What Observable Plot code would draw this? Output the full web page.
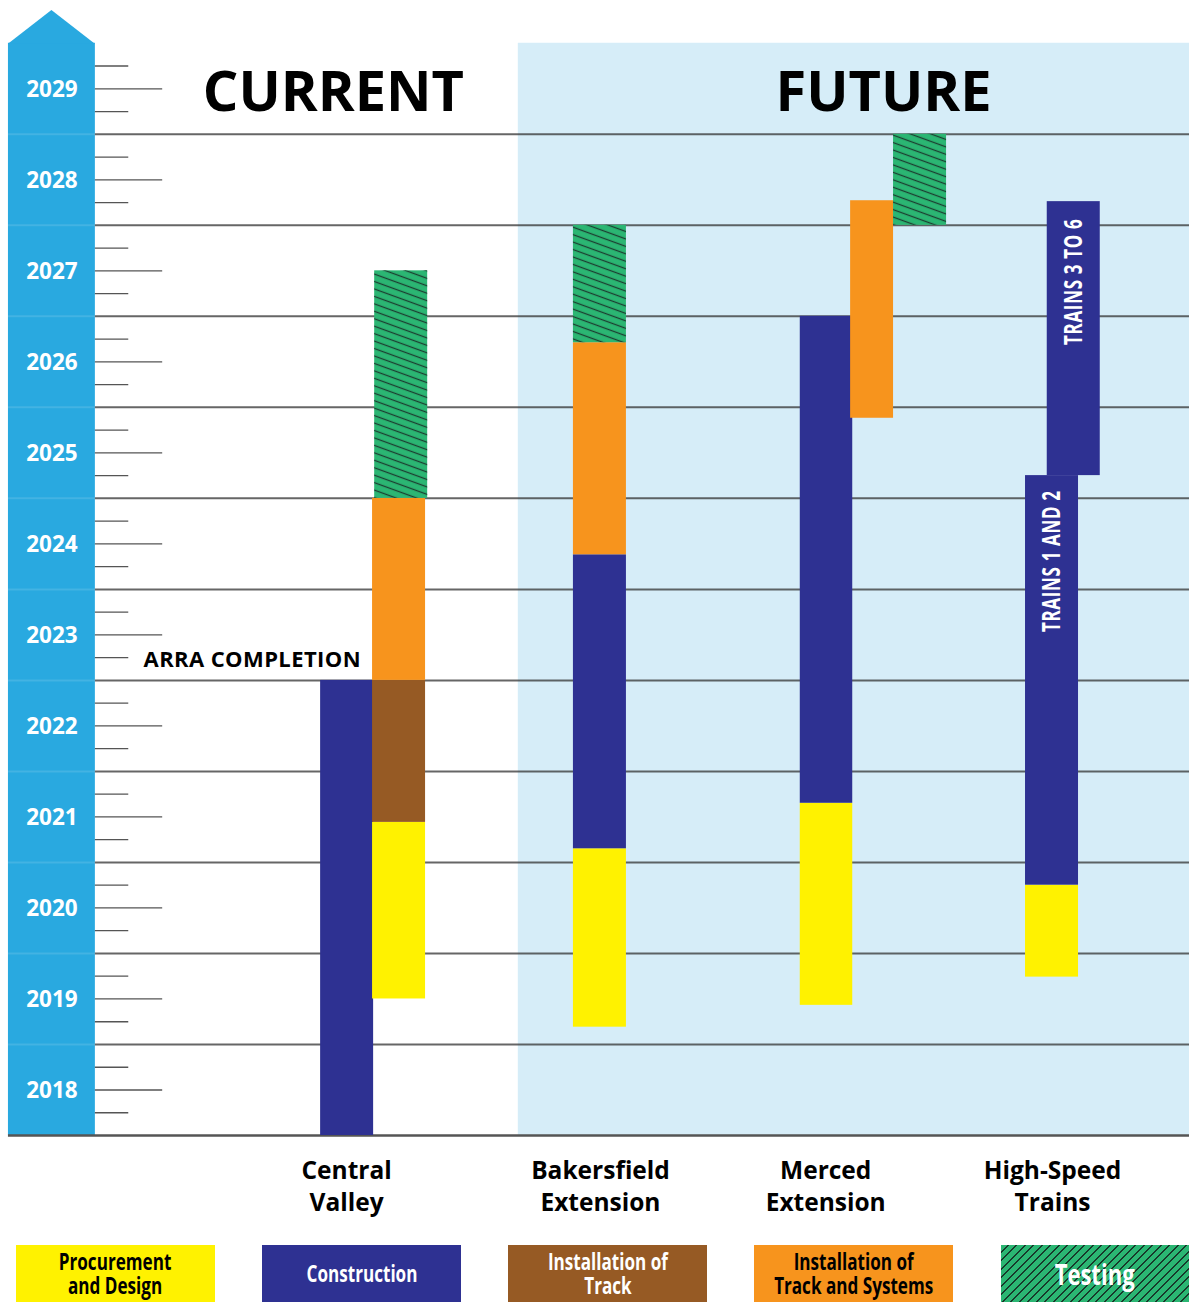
<!DOCTYPE html>
<html>
<head>
<meta charset="utf-8">
<script src="https://cdn.jsdelivr.net/npm/d3@7"></script>
<script src="https://cdn.jsdelivr.net/npm/@observablehq/plot@0.6"></script>
<style>
  html, body { margin: 0; padding: 0; background: #fff; }
  body { width: 1189px; font-family: "Open Sans", sans-serif; }
  #legend { position: relative; height: 57px; margin-top: 15px; }
  .lg { position: absolute; top: 0; height: 57px; display: flex; align-items: center; justify-content: center;
        text-align: center; font-family: "Open Sans", sans-serif; font-weight: bold; font-size: 22.5px; line-height: 24px; }
  .lg span { display: inline-block; transform: scaleX(0.76); white-space: nowrap; }
</style>
</head>
<body>
<div id="chart"></div>
<div id="legend"></div>
<script>
// ---------- data ----------
const yearLabels = [2018, 2019, 2020, 2021, 2022, 2023, 2024, 2025, 2026, 2027, 2028, 2029];
const gridYears = [2018.5, 2019.5, 2020.5, 2021.5, 2022.5, 2023.5, 2024.5, 2025.5, 2026.5, 2027.5, 2028.5];
const minorTicks = [2017.75, 2018.25, 2018.75, 2019.25, 2019.75, 2020.25, 2020.75, 2021.25, 2021.75, 2022.25,
  2022.75, 2023.25, 2023.75, 2024.25, 2024.75, 2025.25, 2025.75, 2026.25, 2026.75, 2027.25, 2027.75, 2028.25,
  2028.75, 2029.25];

const categories = ["Central\nValley", "Bakersfield\nExtension", "Merced\nExtension", "High-Speed\nTrains"];
const categoryPos = [6.53, 11.32, 15.57, 19.85]; // horizontal positions in bar-width units

const phases = ["Procurement and Design", "Construction", "Installation of Track", "Installation of Track and Systems", "Testing"];
const phaseLegend = ["Procurement\nand Design", "Construction", "Installation of\nTrack", "Installation of\nTrack and Systems", "Testing"];
const phaseColors = ["#fff200", "#2e3192", "#965a24", "#f7941d", "#2bb673"];
const phaseText = ["#000", "#fff", "#fff", "#000", "#fff"];

// tasks
const taskProject = ["Central Valley", "Central Valley", "Central Valley", "Central Valley", "Central Valley",
  "Bakersfield", "Bakersfield", "Bakersfield", "Bakersfield",
  "Merced", "Merced", "Merced", "Merced",
  "Trains", "Trains", "Trains"];
const taskPhase = ["Construction", "Procurement and Design", "Installation of Track", "Installation of Track and Systems", "Testing",
  "Procurement and Design", "Construction", "Installation of Track and Systems", "Testing",
  "Procurement and Design", "Construction", "Installation of Track and Systems", "Testing",
  "Procurement and Design", "Construction", "Construction"];
const taskStart = [2017.5, 2019.0, 2020.94, 2022.5, 2024.5,
  2018.69, 2020.65, 2023.88, 2026.21,
  2018.93, 2021.15, 2025.38, 2027.5,
  2019.24, 2020.25, 2024.75];
const taskEnd = [2022.5, 2020.94, 2022.5, 2024.5, 2027.0,
  2020.65, 2023.88, 2026.21, 2027.5,
  2021.15, 2026.5, 2027.77, 2028.5,
  2020.25, 2024.75, 2027.76];
const laneFrom = [6.04, 7.02, 7.02, 7.02, 7.06,
  10.81, 10.81, 10.81, 10.81,
  15.09, 15.09, 16.04, 16.85,
  19.34, 19.34, 19.75];
const laneTo = [7.04, 8.02, 8.02, 8.02, 8.06,
  11.81, 11.81, 11.81, 11.81,
  16.08, 16.08, 16.85, 17.85,
  20.34, 20.34, 20.75];

const sectionTitles = ["CURRENT", "FUTURE"];
const sectionPos = [6.28, 16.66];
const sectionYear = 2028.95;

const notes = [
  {text: "ARRA COMPLETION", x: 4.75, y: 2022.73, fill: "#000"}
];
const trainLabels = ["TRAINS 1 AND 2", "TRAINS 3 TO 6"];
const trainLabelX = [19.84, 20.26];
const trainLabelY = [2023.81, 2026.88];

// layout constants (bar-width units / years)
const futureFrom = 9.77, axisLeft = 0.15, axisRight = 1.79, majorEnd = 3.06, minorEnd = 2.42, plotRight = 1189 / 53;
const topYear = 2029.5, arrowTip = 2029.86, baseYear = 2017.5;

// ---------- build ----------
const tasks = taskPhase.map((p, i) => ({
  project: taskProject[i], phase: p, start: taskStart[i], end: taskEnd[i], x1: laneFrom[i], x2: laneTo[i]
}));
const colorOf = Object.fromEntries(phases.map((p, i) => [p, phaseColors[i]]));

const plot = Plot.plot({
  width: 1189,
  height: 1230,
  margin: 0,
  x: {domain: [0, plotRight], range: [0, 1189], axis: null},
  y: {domain: [baseYear, arrowTip], range: [1135, 10], axis: null},
  marks: [
    // future background
    Plot.rect([0], {x1: futureFrom, x2: plotRight, y1: baseYear, y2: topYear, fill: "#d6edf8"}),
    // axis arrow
    Plot.rect([0], {x1: axisLeft, x2: axisRight, y1: baseYear, y2: topYear, fill: "#29a9e0"}),
    Plot.areaY([axisLeft, (axisLeft + axisRight) / 2, axisRight], {
      x: d => d, y1: topYear - 0.01, y2: (d, i) => i === 1 ? arrowTip : topYear - 0.01, fill: "#29a9e0", curve: "linear"
    }),
    // grid lines
    Plot.ruleY(gridYears, {x1: axisRight, x2: plotRight, stroke: "#333", strokeOpacity: 0.75, strokeWidth: 2}),
    Plot.ruleY(gridYears, {x1: axisLeft, x2: axisRight, stroke: "#fff", strokeOpacity: 0.12, strokeWidth: 2}),
    Plot.ruleY([baseYear], {x1: axisLeft, x2: plotRight, stroke: "#555", strokeWidth: 2.5}),
    // ticks
    Plot.ruleY(yearLabels, {x1: axisRight, x2: majorEnd, stroke: "#555", strokeWidth: 1.3}),
    Plot.ruleY(minorTicks, {x1: axisRight, x2: minorEnd, stroke: "#555", strokeWidth: 1.3}),
    Plot.text(yearLabels, {x: (axisLeft + axisRight) / 2, y: d => d, text: d => String(d), fill: "#fff",
      fontSize: 22.5, fontWeight: "bold", fontFamily: "Open Sans", textAnchor: "middle", dy: 1}),
    // bars
    Plot.rect(tasks, {x1: "x1", x2: "x2", y1: "start", y2: "end", fill: d => colorOf[d.phase]}),
    Plot.rect(tasks.filter(d => d.phase === "Testing"), {x1: "x1", x2: "x2", y1: "start", y2: "end", fill: "url(#hatch)"}),
    // titles
    Plot.text(sectionTitles, {x: (d, i) => sectionPos[i], y: sectionYear, text: d => d, fontSize: 56,
      fontWeight: "bold", fontFamily: "Open Sans", fill: "#000", textAnchor: "middle"}),
    Plot.text(notes, {x: "x", y: "y", text: "text", fontSize: 22, fontWeight: "bold", fontFamily: "Open Sans",
      fill: "fill", textAnchor: "middle"}),
    Plot.text(trainLabels, {x: (d, i) => trainLabelX[i], y: (d, i) => trainLabelY[i], text: d => d, rotate: -90,
      fill: "#fff", fontSize: 25, fontWeight: "bold", fontFamily: "Open Sans", textAnchor: "middle"}),
    // category labels
    Plot.text(categories, {x: (d, i) => categoryPos[i], frameAnchor: "bottom", dy: -46, text: d => d,
      fontSize: 24.5, fontWeight: "bold", fontFamily: "Open Sans", fill: "#000", lineHeight: 1.32,
      textAnchor: "middle", lineAnchor: "middle"})
  ]
});

// hatch pattern for the testing phase
const defs = d3.select(plot).insert("defs", ":first-child");
const pat = defs.append("pattern").attr("id", "hatch").attr("patternUnits", "userSpaceOnUse")
  .attr("width", 10).attr("height", 7).attr("patternTransform", "rotate(20)");
pat.append("line").attr("x1", 0).attr("y1", 3.5).attr("x2", 10).attr("y2", 3.5)
  .attr("stroke", "#1c3d30").attr("stroke-width", 1.3);

// condense and space the rotated train labels; space the note
d3.select(plot).selectAll("text").each(function () {
  if (this.textContent.startsWith("TRAINS")) {
    const t = this.getAttribute("transform") || "";
    this.setAttribute("transform", t + " scale(0.68,1)");
    this.setAttribute("letter-spacing", "1.0");
  } else if (this.textContent === "ARRA COMPLETION") {
    this.setAttribute("letter-spacing", "0.4");
  }
});

document.getElementById("chart").appendChild(plot);

// legend
const legend = d3.select("#legend");
const lgLeft = [16, 262, 508, 754, 1001];
const lgWidth = [199, 199, 199, 199, 188];
phases.forEach((p, i) => {
  const div = legend.append("div").attr("class", "lg")
    .style("left", lgLeft[i] + "px").style("width", lgWidth[i] + "px")
    .style("color", phaseText[i])
    .style("background", p === "Testing"
      ? "repeating-linear-gradient(135deg, #2bb673 0px, #2bb673 4.6px, #173a2b 4.6px, #173a2b 6px)"
      : phaseColors[i]);
  const span = div.append("span").html(phaseLegend[i].replace("\n", "<br>"));
  if (p === "Testing") span.style("font-size", "29px");
});
</script>
</body>
</html>
